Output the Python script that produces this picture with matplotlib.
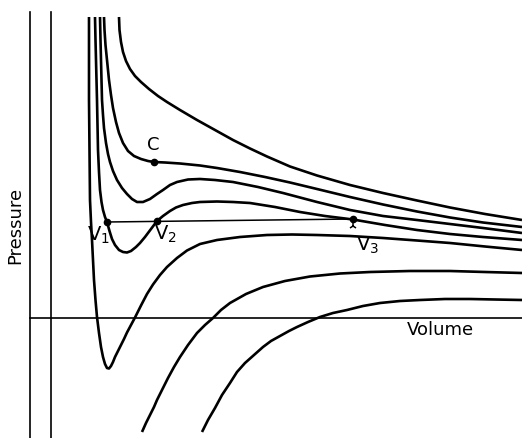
import numpy as np
import matplotlib
matplotlib.use("Agg")
import matplotlib.pyplot as plt

# Van der Waals isotherms (volume, pressure in arbitrary units)
# origin is the crossing of the two axes
vA = [89, 89.5, 91, 93, 96, 100, 105, 111, 119, 128, 137, 150, 167, 185, 203, 220, 237, 260, 287,
      320, 353, 387, 420, 455, 492]
pA = [301, 288, 276, 266, 257, 249, 242, 236, 229, 222, 216, 208, 198, 188, 178, 169.5, 161.5, 151.5,
      142.5, 133, 125, 117.5, 110.5, 104, 98]

vB = [74, 74.5, 75.5, 77, 79, 81, 83, 86, 89, 93, 98, 104, 111, 118, 124, 135, 150, 170, 187, 210,
      235, 260, 287, 320, 353, 387, 420, 453, 492]
pB = [301, 288, 273, 258, 238, 223, 210, 196, 185, 175, 167, 162, 159, 157, 156, 155.5, 154.5, 152.5,
      150, 146, 141, 135.5, 129, 121, 113.5, 106.5, 100.5, 95.5, 91]

v3 = [70, 70.5, 71, 71.5, 72, 73, 74, 76, 78, 80, 83, 87, 92, 97, 102, 107, 113, 120, 127, 133, 140,
      147, 158, 170, 185, 203, 228, 253, 287, 320, 353, 387, 420, 453, 492]
p3 = [301, 278, 258, 238, 218, 203, 190, 175, 164, 156, 147, 138, 130, 124, 119, 116, 116, 119, 124,
      128, 133, 136, 138.5, 139, 138, 136, 131, 125, 116, 108, 102, 98, 94, 90, 85]

v4 = [65, 65.5, 66, 66.5, 67, 67.5, 68, 69, 70, 71.5, 73, 75, 77, 79.5, 82, 85, 89, 93, 97, 101, 106,
      110, 115, 121, 127, 133, 140, 146, 153, 162, 170, 187, 203, 220, 245, 270, 295, 323, 355, 387,
      420, 453, 492]
p4 = [301, 278, 258, 238, 218, 193, 168, 146, 128, 116, 108, 101, 96, 87, 79, 73, 68, 66, 65.5, 67, 71,
      75, 81, 89, 97, 102, 107, 110.5, 113, 115, 116, 116.5, 116, 115, 111, 106, 102, 98.5, 93, 88,
      84, 81, 78]

v5 = [59, 59, 59, 59.5, 60, 61, 62, 63, 64, 65.5, 67, 69, 71, 73, 75, 77, 79, 81, 83, 85, 88, 91, 94,
      97, 101, 105, 111, 117, 123, 130, 137, 147, 157, 170, 187, 210, 237, 262, 287, 320, 353, 387,
      420, 455, 492]
p5 = [301, 258, 218, 168, 118, 96, 78, 58, 38, 18, 1, -15, -29, -39, -46, -50, -50.5, -48, -44, -39,
      -33, -27, -21, -14.5, -7, 0.5, 12.5, 24, 33.5, 43, 51, 60, 67.5, 74, 78, 81, 83, 83.5, 83, 82,
      80, 77.5, 75, 71.5, 68]

v6 = [112, 116, 120, 124, 127, 132, 138, 144, 150, 158, 167, 175, 183, 191, 200, 216, 233, 255, 280,
      310, 340, 380, 420, 455, 492]
p6 = [-114, -105, -97, -89, -82, -72, -60, -49, -39, -27, -15, -7, 0, 8, 15, 24, 31, 37, 41.5, 44.5, 46,
      47, 47, 46, 45]

v7 = [172, 178, 185, 192, 200, 207, 215, 224, 233, 241, 250, 259, 267, 278, 290, 303, 317, 333, 350,
      370, 390, 415, 440, 465, 492]
p7 = [-114, -102, -90, -77, -65, -54, -45, -37, -29, -23, -18, -13, -9, -4, 1, 5, 8, 12, 15, 17, 18,
      19, 19, 18.5, 18]

# marked points
crit = (124, 156)
vol_pts = [77, 127, 323]
pres_pts = [96, 97, 99]

fig = plt.figure(figsize=(5.22, 4.38), dpi=100)
ax = fig.add_axes([0, 0, 1, 1])
ax.set_xlim(-30, 492)
ax.set_ylim(-120, 318)
ax.axis('off')

# axes
ax.plot([0, 0], [306, -120], color='k', lw=1.2)
ax.plot([21, 21], [306, -120], color='k', lw=1.2)
ax.plot([0, 492], [0, 0], color='k', lw=1.2)

for v, p in [(vA, pA), (vB, pB), (v3, p3), (v4, p4), (v5, p5), (v6, p6), (v7, p7)]:
    ax.plot(v, p, color='k', lw=1.9, solid_joinstyle='round', solid_capstyle='butt')

# tie line V1 - V3
ax.plot([vol_pts[0], vol_pts[2]], [pres_pts[0], pres_pts[2]], color='k', lw=1.1)
ax.plot(vol_pts, pres_pts, 'o', color='k', ms=4.5)
ax.plot(vol_pts[2], pres_pts[2] - 7, marker='2', color='k', ms=6, mew=1.1)
ax.plot(*crit, 'o', color='k', ms=4.5)

ax.text(crit[0] - 1, crit[1] + 8, 'C', fontsize=13, ha='center', va='bottom')
ax.text(vol_pts[0] - 9, pres_pts[0] - 3, 'V$_1$', fontsize=14, ha='center', va='top')
ax.text(vol_pts[1] + 8, pres_pts[1] - 3, 'V$_2$', fontsize=14, ha='center', va='top')
ax.text(vol_pts[2] + 15, pres_pts[2] - 16, 'V$_3$', fontsize=14, ha='center', va='top')

ax.text(-15, 93, 'Pressure', fontsize=13, rotation=90, ha='center', va='center')
ax.text(410, -12, 'Volume', fontsize=13, ha='center', va='center')

fig.savefig('out.png', dpi=100)
